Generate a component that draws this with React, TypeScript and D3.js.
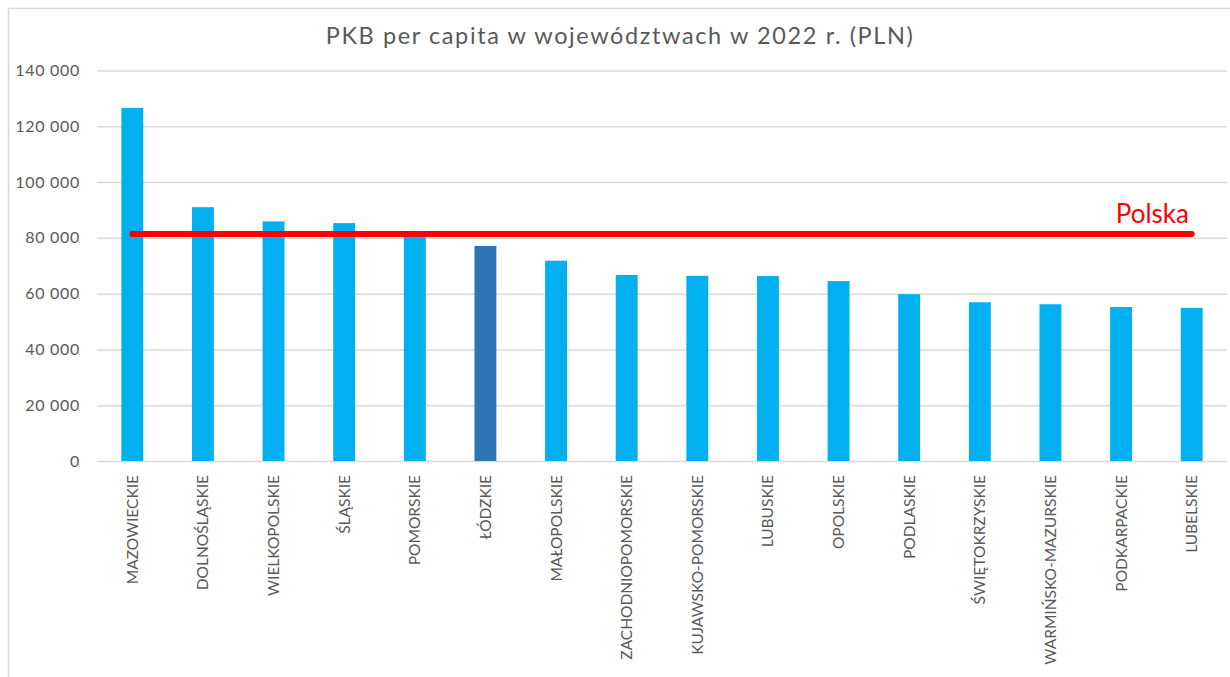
import { useRef, useEffect } from 'react';
import * as d3 from 'd3';

const regions = [
  'MAZOWIECKIE',
  'DOLNOŚLĄSKIE',
  'WIELKOPOLSKIE',
  'ŚLĄSKIE',
  'POMORSKIE',
  'ŁÓDZKIE',
  'MAŁOPOLSKIE',
  'ZACHODNIOPOMORSKIE',
  'KUJAWSKO-POMORSKIE',
  'LUBUSKIE',
  'OPOLSKIE',
  'PODLASKIE',
  'ŚWIĘTOKRZYSKIE',
  'WARMIŃSKO-MAZURSKIE',
  'PODKARPACKIE',
  'LUBELSKIE',
];
const gdpPerCapita = [
  126600, 91000, 85900, 85300, 80700, 77100, 71800, 66700, 66400, 66300, 64500, 59800, 56900,
  56200, 55200, 54900,
];
const polandAvg = 81400;
const yTicks = [0, 20000, 40000, 60000, 80000, 100000, 120000, 140000];
const highlighted = 'ŁÓDZKIE';

const App = () => {
  const svgRef = useRef<SVGSVGElement>(null);

  useEffect(() => {
    if (!svgRef.current) return;

    const width = 1230;
    const height = 677;
    const marginTop = 70.5;
    const marginLeft = 97;
    const plotRight = 1227;
    const plotBottom = 461;
    const font = 'Lato, "Open Sans", sans-serif';
    const textColor = '#595959';

    const data = regions.map((name, i) => ({ name, value: gdpPerCapita[i] }));

    const svg = d3
      .select(svgRef.current)
      .attr('width', width)
      .attr('height', height)
      .attr('viewBox', [0, 0, width, height]);

    svg.selectAll('*').remove();

    // chart frame
    svg
      .append('rect')
      .attr('x', 8.5)
      .attr('y', 8.5)
      .attr('width', width + 20)
      .attr('height', height + 20)
      .attr('fill', '#fff')
      .attr('stroke', '#d9d9d9')
      .attr('stroke-width', 1.5);

    const xScale = d3
      .scaleBand()
      .domain(regions)
      .range([marginLeft, plotRight])
      .paddingInner(0.69)
      .paddingOuter(0.345);

    const yScale = d3.scaleLinear().domain([0, 140000]).range([plotBottom, marginTop]);

    svg
      .append('text')
      .attr('x', 620)
      .attr('y', 44)
      .attr('text-anchor', 'middle')
      .attr('font-family', font)
      .attr('font-size', 23.5)
      .attr('letter-spacing', 1.6)
      .attr('fill', textColor)
      .text('PKB per capita w województwach w 2022 r. (PLN)');

    // gridlines + y labels
    const yAxis = svg
      .append('g')
      .attr('transform', `translate(${marginLeft},0)`)
      .call(
        d3
          .axisLeft(yScale)
          .tickValues(yTicks)
          .tickSize(-(plotRight - marginLeft))
          .tickPadding(17)
          .tickFormat((d) => d3.format(',')(d as number).replace(/,/g, ' ')),
      );
    yAxis.select('.domain').remove();
    yAxis.selectAll('line').attr('stroke', '#d9d9d9').attr('stroke-width', 1.5);
    yAxis
      .selectAll('text')
      .attr('font-family', font)
      .attr('font-size', 16)
      .attr('letter-spacing', 0.7)
      .attr('fill', textColor);

    svg
      .append('g')
      .selectAll('rect')
      .data(data)
      .enter()
      .append('rect')
      .attr('x', (d) => xScale(d.name)!)
      .attr('y', (d) => yScale(d.value))
      .attr('width', xScale.bandwidth())
      .attr('height', (d) => yScale(0) - yScale(d.value))
      .attr('fill', (d) => (d.name === highlighted ? '#2e75b6' : '#00b0f0'));

    // category labels
    svg
      .append('g')
      .selectAll('text')
      .data(data)
      .enter()
      .append('text')
      .attr('transform', (d) => `translate(${xScale(d.name)! + xScale.bandwidth() / 2},475) rotate(-90)`)
      .attr('text-anchor', 'end')
      .attr('dy', '0.35em')
      .attr('font-family', font)
      .attr('font-size', 15.5)
      .attr('fill', textColor)
      .text((d) => d.name);

    // Polska average line
    const first = xScale(regions[0])! + xScale.bandwidth() / 2;
    const last = xScale(regions[regions.length - 1])! + xScale.bandwidth() / 2;
    svg
      .append('line')
      .attr('x1', first)
      .attr('x2', last)
      .attr('y1', yScale(polandAvg))
      .attr('y2', yScale(polandAvg))
      .attr('stroke', '#ff0000')
      .attr('stroke-width', 6)
      .attr('stroke-linecap', 'round');

    svg
      .append('text')
      .attr('x', 1189)
      .attr('y', 223)
      .attr('text-anchor', 'end')
      .attr('font-family', font)
      .attr('font-size', 26)
      .attr('fill', '#ff0000')
      .text('Polska');
  }, []);

  return (
    <div style={{ position: 'fixed', left: 0, top: 0 }}>
      <svg ref={svgRef} style={{ display: 'block' }}></svg>
    </div>
  );
};

export default App;
